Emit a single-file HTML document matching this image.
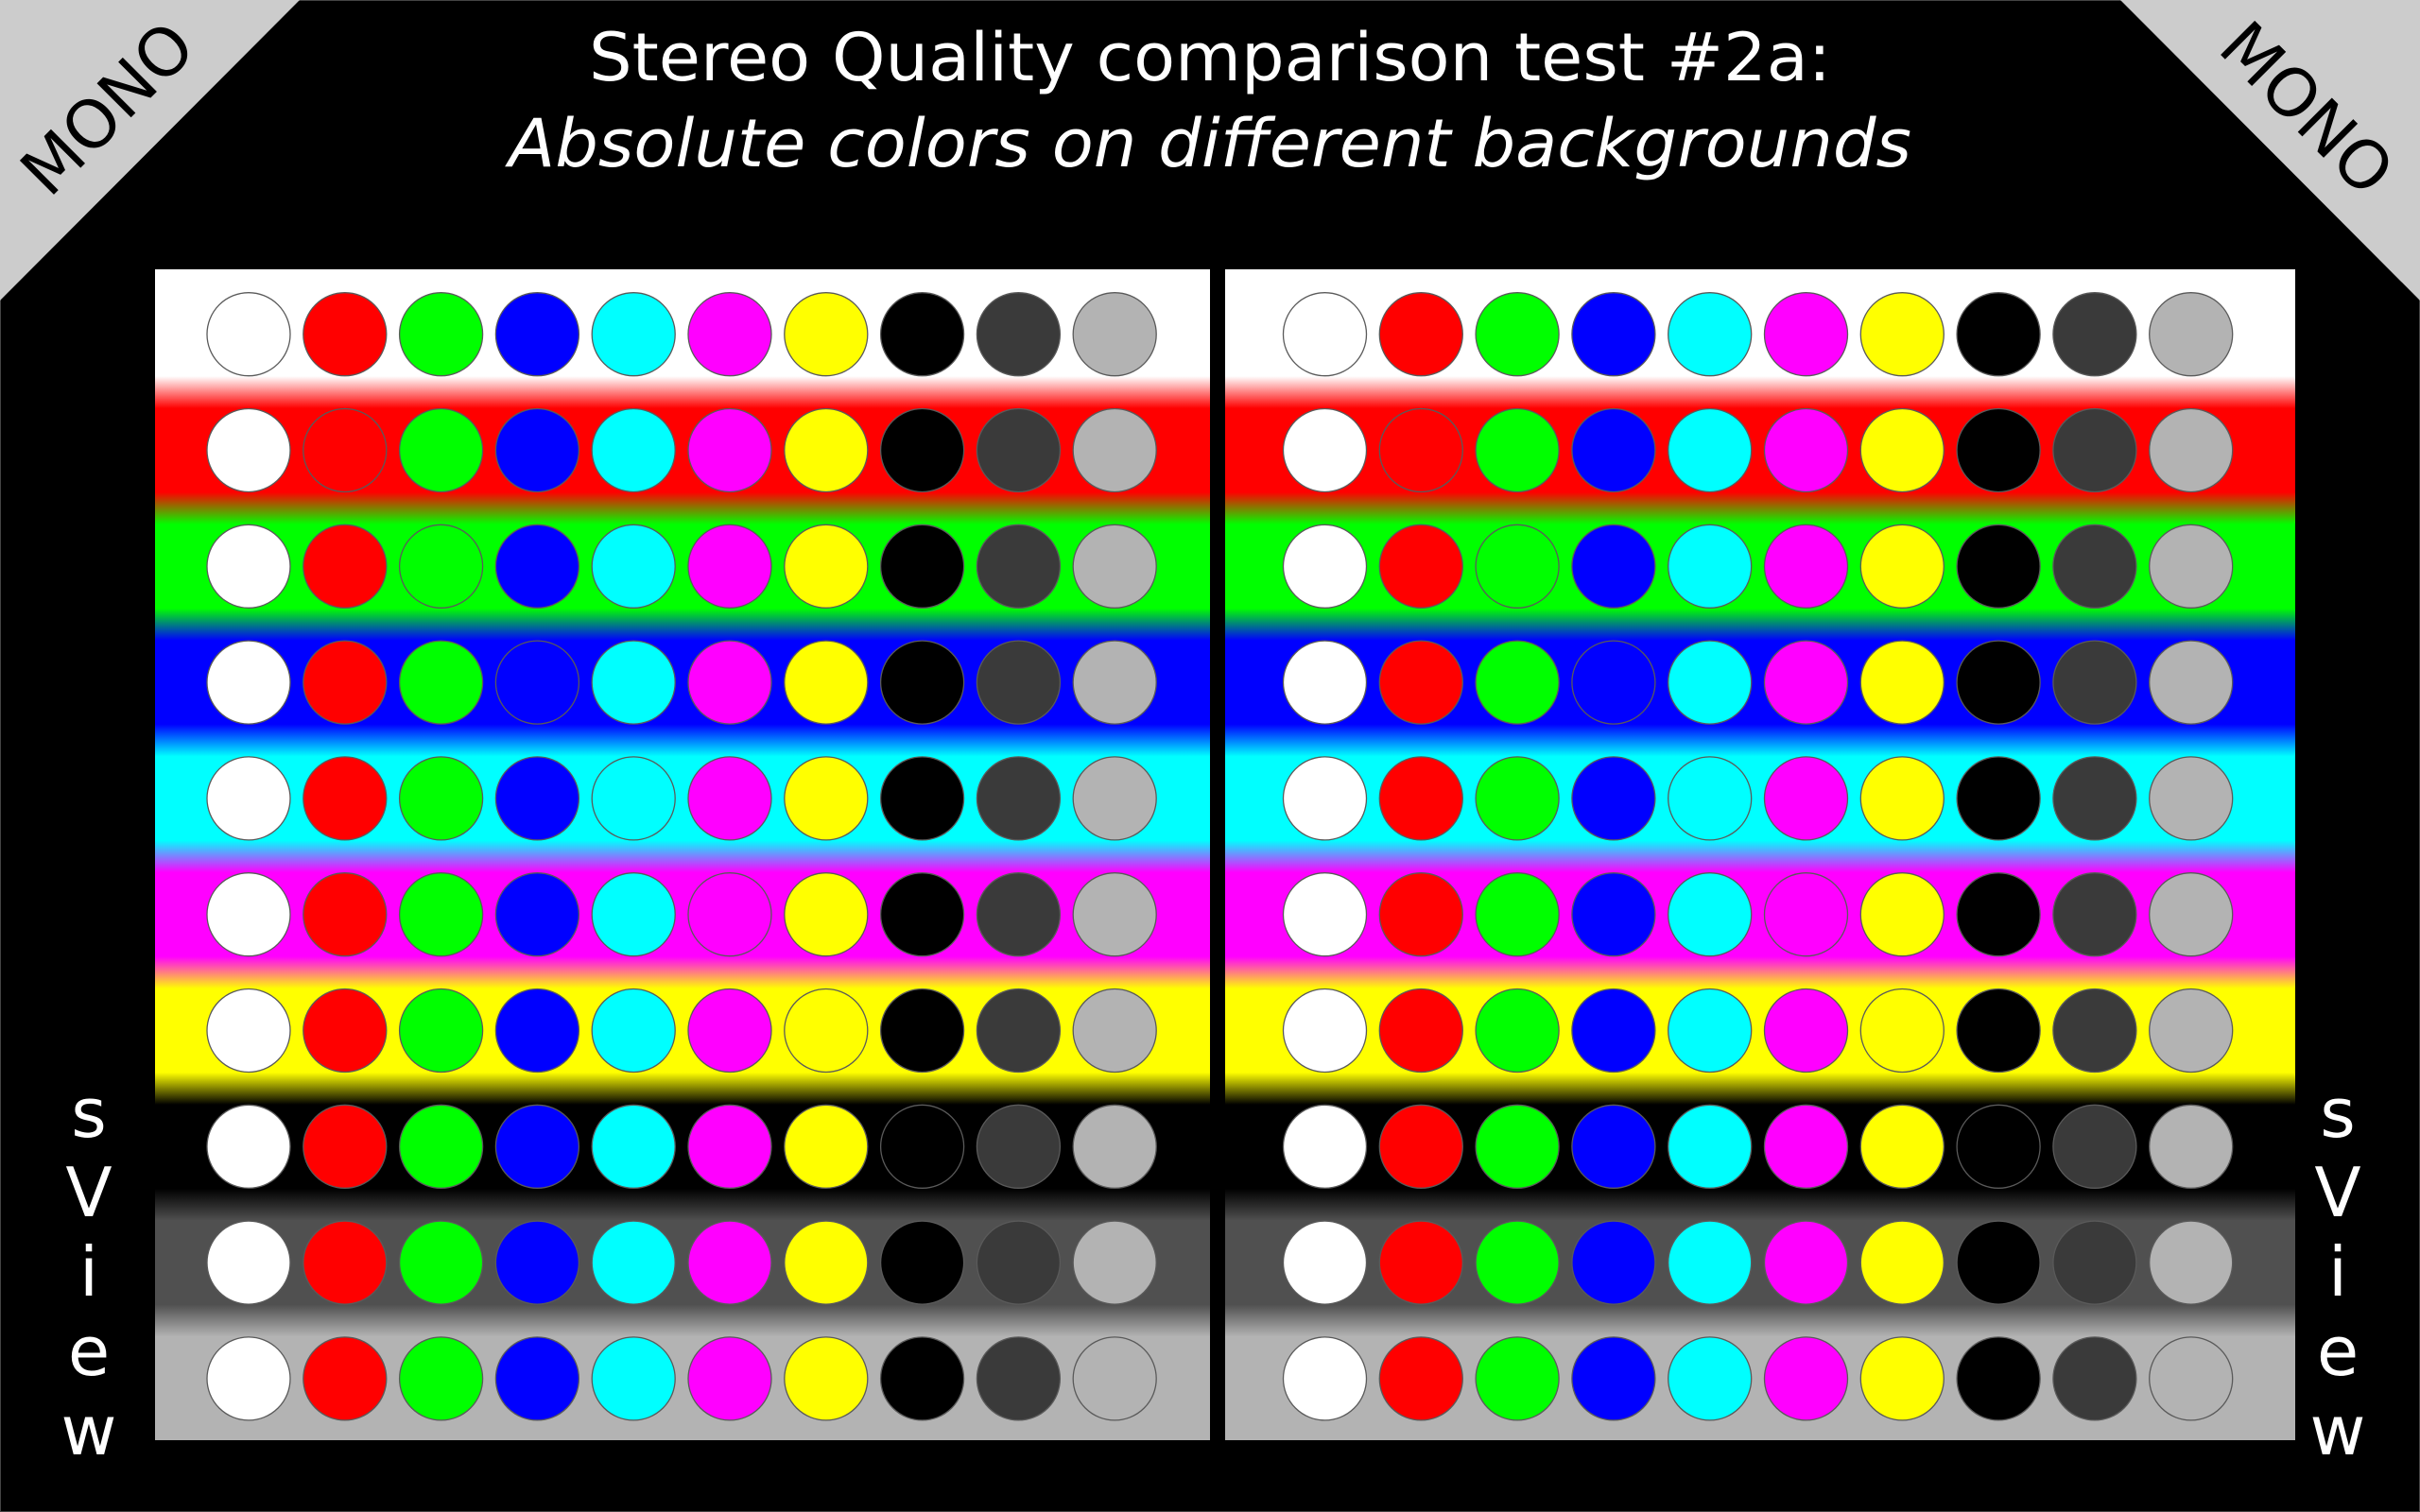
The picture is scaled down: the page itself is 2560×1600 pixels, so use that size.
<!DOCTYPE html>
<html><head><meta charset="utf-8"><style>
html,body{margin:0;padding:0;background:#000;}
svg{display:block;}
text{font-family:"DejaVu Sans","Liberation Sans",sans-serif;}
</style></head><body>
<svg id="chart" width="2560" height="1600" viewBox="0 0 2560 1600" xmlns="http://www.w3.org/2000/svg">
<rect x="0" y="0" width="2560" height="1600" fill="#000"/>
<rect x="0.5" y="0.5" width="2559" height="1599" fill="none" stroke="#444" stroke-width="1"/>
<polygon points="0,0 317,0 0,318" fill="#ccc"/>
<polygon points="2560,0 2243,0 2560,318" fill="#ccc"/>
<text x="0" y="0" font-size="70" fill="#000" text-anchor="middle" dominant-baseline="central" transform="translate(114,115) rotate(-45)">MONO</text>
<text x="0" y="0" font-size="70" fill="#000" text-anchor="middle" dominant-baseline="central" transform="translate(2440,115) rotate(45)">MONO</text>
<text x="1280" y="85" font-size="70" fill="#fff" text-anchor="middle" textLength="1314" lengthAdjust="spacingAndGlyphs">Stereo Quality comparison test #2a:</text>
<text x="1280" y="176" font-size="70" fill="#fff" font-style="italic" text-anchor="middle" textLength="1484" lengthAdjust="spacingAndGlyphs">Absolute colors on different backgrounds</text>
<g id="panels"></g>
<g id="sview-left"></g>
<g id="sview-right"></g>
</svg>
<script>
const backgroundColors = ["#ffffff","#ff0000","#00ff00","#0000ff","#00ffff","#ff00ff","#ffff00","#000000","#505050","#b3b3b3"];
const circleColors = ["#ffffff","#ff0000","#00ff00","#0000ff","#00ffff","#ff00ff","#ffff00","#000000","#3a3a3a","#b3b3b3"];
const bandNames = ["white","red","green","blue","cyan","magenta","yellow","black","dark-gray","light-gray"];
const sviewLetters = ["s","V","i","e","w"];

const NS = "http://www.w3.org/2000/svg";
const svg = document.getElementById("chart");
const panelTop = 285, panelBottom = 1524;
const rowY0 = 353.7, rowStep = 122.8, halfFade = 17;
const panels = [
  {name:"left", x0:164, x1:1280, cx0:263, step:101.8},
  {name:"right", x0:1296, x1:2428, cx0:1401.5, step:101.8}
];
function rowY(i){ return rowY0 + i*rowStep; }
function colX(p,j){ return p.cx0 + j*p.step; }

const defs = document.createElementNS(NS,"defs");
const grad = document.createElementNS(NS,"linearGradient");
grad.setAttribute("id","bandGrad");
grad.setAttribute("gradientUnits","userSpaceOnUse");
grad.setAttribute("x1","0"); grad.setAttribute("x2","0");
grad.setAttribute("y1",panelTop); grad.setAttribute("y2",panelBottom);
const H = panelBottom - panelTop;
function addStop(y,c){
  const s = document.createElementNS(NS,"stop");
  s.setAttribute("offset", ((y-panelTop)/H).toFixed(5));
  s.setAttribute("stop-color", c);
  grad.appendChild(s);
}
addStop(panelTop, backgroundColors[0]);
for(let k=0;k<backgroundColors.length-1;k++){
  const yb = (rowY(k)+rowY(k+1))/2;
  addStop(yb-halfFade, backgroundColors[k]);
  addStop(yb+halfFade, backgroundColors[k+1]);
}
addStop(panelBottom, backgroundColors[backgroundColors.length-1]);
defs.appendChild(grad);
svg.insertBefore(defs, svg.firstChild);

const pg = document.getElementById("panels");
panels.forEach(p=>{
  const g = document.createElementNS(NS,"g");
  
  
  const r = document.createElementNS(NS,"rect");
  r.setAttribute("x",p.x0); r.setAttribute("y",panelTop);
  r.setAttribute("width",p.x1-p.x0); r.setAttribute("height",H);
  r.setAttribute("fill","url(#bandGrad)");
  
  
  g.appendChild(r);
  backgroundColors.forEach((bc,i)=>{
    circleColors.forEach((cc,j)=>{
      const c = document.createElementNS(NS,"circle");
      c.setAttribute("cx",colX(p,j)); c.setAttribute("cy",rowY(i)); c.setAttribute("r",44);
      c.setAttribute("fill",cc);
      c.setAttribute("stroke","#5a5a5a");
      c.setAttribute("stroke-width","1.3");
      
      
      g.appendChild(c);
    });
  });
  pg.appendChild(g);
});

[["sview-left",94],["sview-right",2473]].forEach(([id,x])=>{
  const g = document.getElementById(id);
  sviewLetters.forEach((ch,k)=>{
    const t = document.createElementNS(NS,"text");
    t.setAttribute("x",x); t.setAttribute("y",1203 + k*84);
    t.setAttribute("font-size","72"); t.setAttribute("fill","#fff");
    t.setAttribute("text-anchor","middle");
    
    
    t.textContent = ch;
    g.appendChild(t);
  });
});
</script>
</body></html>
